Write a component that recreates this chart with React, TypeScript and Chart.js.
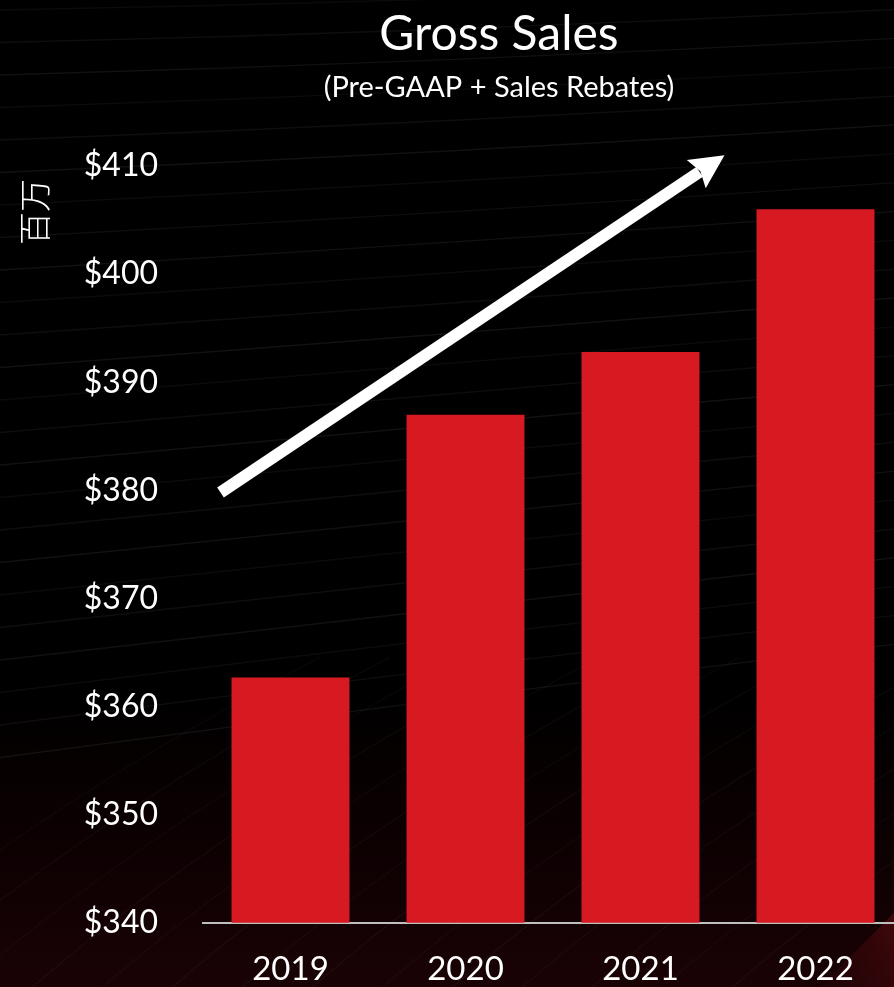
import React, { useEffect, useRef } from "react";
import { Chart, registerables } from "chart.js";

Chart.register(...registerables);

const years = ["2019", "2020", "2021", "2022"];
const grossSales = [362.7, 387.0, 392.8, 406.0];
const yTicks = [340, 350, 360, 370, 380, 390, 400, 410];
const titleText = "Gross Sales";
const subtitleText = "(Pre-GAAP + Sales Rebates)";
const yAxisTitle = "百万";
// trend arrow, in data units (category index, value)
const trendFrom = { x: -0.4, y: 379.8 };
const trendTo = { x: 2.48, y: 411.0 };

const FONT = "Lato, 'Open Sans', sans-serif";
const BAR_COLOR = "#D71A21";

const backgroundPlugin = {
  id: "bgDeco",
  beforeDraw(chart: any) {
    const ctx = chart.ctx;
    const w = chart.width;
    const h = chart.height;
    ctx.save();
    ctx.fillStyle = "#000000";
    ctx.fillRect(0, 0, w, h);
    const g = ctx.createLinearGradient(0, h * 0.7, 0, h);
    g.addColorStop(0, "rgba(30,0,3,0)");
    g.addColorStop(1, "rgba(32,3,6,0.8)");
    ctx.fillStyle = g;
    ctx.fillRect(0, h * 0.7, w, h * 0.3);
    // red streak bottom right
    const s = ctx.createLinearGradient(w, h - 80, w - 120, h);
    s.addColorStop(0, "rgba(140,18,24,0.45)");
    s.addColorStop(1, "rgba(80,10,15,0)");
    ctx.fillStyle = s;
    ctx.beginPath();
    ctx.moveTo(w, h - 90);
    ctx.lineTo(w, h);
    ctx.lineTo(w - 90, h);
    ctx.closePath();
    ctx.fill();
    // faint swoosh lines (upper part)
    ctx.lineWidth = 1.4;
    for (let i = 0; i < 24; i++) {
      const y0 = 10 + i * 31;
      ctx.strokeStyle = `rgba(255,255,255,${0.045 + (i % 3) * 0.01})`;
      ctx.beginPath();
      ctx.moveTo(0, y0 + i * 1.5);
      ctx.quadraticCurveTo(w * 0.5, y0 - 8 - i * 0.8, w, y0 - 30 - i * 2.2);
      ctx.stroke();
    }
    // faint diagonal lines (lower part)
    ctx.lineWidth = 1.2;
    for (let i = 0; i < 14; i++) {
      ctx.strokeStyle = `rgba(255,255,255,${0.03 + (i % 2) * 0.01})`;
      const x0 = -200 + i * 70;
      ctx.beginPath();
      ctx.moveTo(x0, h + 20);
      ctx.quadraticCurveTo(x0 + 200, h - 160, x0 + 520, h - 330);
      ctx.stroke();
    }
    ctx.restore();
  },
};

const textPlugin = {
  id: "textDeco",
  afterDraw(chart: any) {
    const ctx = chart.ctx;
    ctx.save();
    ctx.fillStyle = "#FFFFFF";
    ctx.textAlign = "center";
    ctx.textBaseline = "alphabetic";
    ctx.font = `48px ${FONT}`;
    ctx.fillText(titleText, 499, 50);
    ctx.font = `29px ${FONT}`;
    ctx.fillText(subtitleText, 499, 97);
    // y axis title
    ctx.translate(34, 212);
    ctx.rotate(-Math.PI / 2);
    ctx.textBaseline = "middle";
    ctx.font = `300 33px 'Noto Sans CJK SC', sans-serif`;
    ctx.fillText(yAxisTitle, 0, 0);
    ctx.restore();
  },
};

const arrowPlugin = {
  id: "trendArrow",
  afterDatasetsDraw(chart: any) {
    const xs = chart.scales.x;
    const ys = chart.scales.y;
    const x1 = xs.getPixelForValue(trendFrom.x);
    const y1 = ys.getPixelForValue(trendFrom.y);
    const x2 = xs.getPixelForValue(trendTo.x);
    const y2 = ys.getPixelForValue(trendTo.y);
    const ang = Math.atan2(y2 - y1, x2 - x1);
    const headLen = 34;
    const headHalf = 17;
    const bx = x2 - headLen * Math.cos(ang);
    const by = y2 - headLen * Math.sin(ang);
    const ctx = chart.ctx;
    ctx.save();
    ctx.strokeStyle = "#FFFFFF";
    ctx.fillStyle = "#FFFFFF";
    ctx.lineWidth = 12;
    ctx.lineCap = "butt";
    ctx.beginPath();
    ctx.moveTo(x1, y1);
    ctx.lineTo(bx + 4 * Math.cos(ang), by + 4 * Math.sin(ang));
    ctx.stroke();
    const px = -Math.sin(ang);
    const py = Math.cos(ang);
    ctx.beginPath();
    ctx.moveTo(x2, y2);
    ctx.lineTo(bx + px * headHalf, by + py * headHalf);
    ctx.lineTo(bx + 5 * Math.cos(ang), by + 5 * Math.sin(ang));
    ctx.lineTo(bx - px * headHalf, by - py * headHalf);
    ctx.closePath();
    ctx.fill();
    ctx.restore();
  },
};

export default function App() {
  const ref = useRef<HTMLCanvasElement | null>(null);
  useEffect(() => {
    if (!ref.current) return;
    const chart = new Chart(ref.current, {
      type: "bar",
      data: {
        labels: years,
        datasets: [
          {
            data: grossSales,
            backgroundColor: BAR_COLOR,
            borderWidth: 0,
            categoryPercentage: 1,
            barPercentage: 0.674,
          },
        ],
      },
      options: {
        responsive: false,
        animation: false,
        layout: { padding: { top: 166, right: 7, left: 0, bottom: 0 } },
        plugins: {
          legend: { display: false },
          tooltip: { enabled: false },
          title: { display: false },
        },
        scales: {
          x: {
            grid: { display: false, drawTicks: false, tickLength: 0 },
            border: { display: true, color: "#BFBFBF", width: 2 },
            ticks: {
              color: "#FFFFFF",
              font: { family: FONT, size: 33 },
              padding: 27,
              maxRotation: 0,
            },
            afterFit: (s: any) => {
              s.height = 63;
            },
          },
          y: {
            min: 340,
            max: 410,
            grid: { display: false, drawTicks: false, tickLength: 0 },
            border: { display: false },
            ticks: {
              color: "#FFFFFF",
              font: { family: FONT, size: 32 },
              padding: 45,
              callback: (v: any) => "$" + v,
            },
            afterBuildTicks: (s: any) => {
              s.ticks = yTicks.map((v) => ({ value: v }));
            },
            afterFit: (s: any) => {
              s.width = 203;
            },
          },
        },
      },
      plugins: [backgroundPlugin, arrowPlugin, textPlugin],
    });
    return () => chart.destroy();
  }, []);
  return (
    <div
      style={{
        position: "absolute",
        left: 0,
        top: 0,
        width: 894,
        height: 987,
        overflow: "hidden",
        background: "#000",
      }}
    >
      <canvas ref={ref} width={910} height={987} style={{ display: "block" }} />
    </div>
  );
}
